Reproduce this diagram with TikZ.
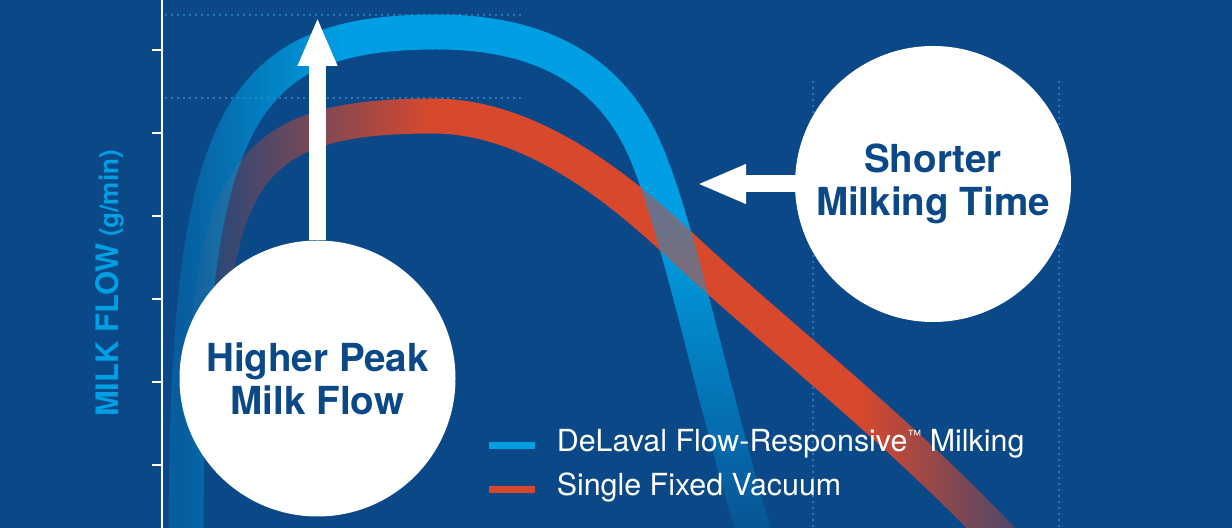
\documentclass[tikz,border=0pt]{standalone}
\usepackage{fontspec}
\setmainfont{TeX Gyre Heros}
\usetikzlibrary{arrows.meta,positioning,fadings}
\definecolor{bgblue}{HTML}{0A4887}
\definecolor{flowblue}{HTML}{009EE2}
\definecolor{vacred}{HTML}{D8482D}
\definecolor{guideblue}{HTML}{3E9AD6}
% fadings on the same px grid as the picture
\begin{tikzfadingfrompicture}[name=bluefade,x=0.5pt,y=-0.5pt]
\begin{scope}[shift={(-616,-264)}]
\fill[transparent!75](0,0)rectangle(180,528);
\shade[left color=transparent!75,right color=transparent!0](180,0)rectangle(340,528);
\fill[transparent!0](340,0)rectangle(1232,230);
\shade[top color=transparent!0,bottom color=transparent!85](340,230)rectangle(1232,528);
\end{scope}
\end{tikzfadingfrompicture}
\begin{tikzfadingfrompicture}[name=redfade,x=0.5pt,y=-0.5pt]
\begin{scope}[shift={(-616,-264)}]
\fill[transparent!90](0,0)rectangle(200,528);
\shade[left color=transparent!90,right color=transparent!0](200,0)rectangle(430,528);
\fill[transparent!0](430,0)rectangle(860,528);
\shade[left color=transparent!0,right color=transparent!65](860,0)rectangle(1010,528);
\fill[transparent!65](1010,0)rectangle(1232,528);
\end{scope}
\end{tikzfadingfrompicture}
\begin{document}
\begin{tikzpicture}[x=0.5pt,y=-0.5pt,
bubble/.style={circle,fill=white,minimum size=138pt,inner sep=0pt,align=center,text=bgblue,font=\fontsize{19.3}{21.5}\selectfont\bfseries},
bigarrow/.style={white,line width=8.5pt,-{Triangle[length=24.5pt,width=18pt]}},
band/.style={line width=17.5pt,fit fading=false,fading transform={shift={(616,264)}}},
guide/.style={guideblue,line width=1pt,line cap=round,dash pattern=on 0pt off 3pt},
legbar/.style={minimum width=23pt,minimum height=3.8pt,inner sep=0pt},
legtext/.style={inner sep=0pt,yshift=-3pt,text=white,font=\fontsize{15.2}{16}\selectfont}]
\useasboundingbox[fill=bgblue](0,0)rectangle(1232,528);
% axis and guides
\draw[white,line width=0.8pt](162,0)--(162,528);
\foreach \y in {50,133,216,299,382,465}\draw[white,line width=0.8pt](152,\y)--(162,\y);
\draw[guide](166,15)--(522,15);
\draw[guide](166,98)--(522,98);
\draw[guide](813,82)--(813,528);
\draw[guide](1059,82)--(1059,528);
\node[rotate=90,anchor=base,inner sep=0pt,text=flowblue,font=\bfseries](ylab)at(118,283.5){{\fontsize{15.5}{18}\selectfont MILK FLOW}\hspace{3pt}{\fontsize{13}{15}\selectfont(g/min)}};
% curves
\draw[band,vacred,path fading=redfade](205,420)..controls(210,170)and(250,116)..(433,116)..controls(510,116)and(590,160)..(680,245)..controls(770,330)and(900,430)..(1010,548);
\draw[band,flowblue,path fading=bluefade](186,545)..controls(186,120)and(235,32)..(437,32)..controls(540,32)and(610,70)..(645,150)..controls(680,230)and(718,420)..(758,545);
\begin{scope}
\clip(620,170)rectangle(720,300);
\draw[band,vacred,opacity=.5](433,116)..controls(510,116)and(590,160)..(680,245)..controls(770,330)and(900,430)..(1010,548);
\end{scope}
% callouts
\node[bubble](hpeak)at(317.5,378.5){Higher Peak\\Milk Flow};
\node[bubble](stime)at(933,184){Shorter\\Milking Time};
\coordinate(peaktip)at(317.5,17);
\coordinate(timetip)at(697,184);
\draw[bigarrow](hpeak)--(peaktip);
\draw[bigarrow](stime)--(timetip);
% legend
\node[legbar,fill=flowblue](kflow)at(512,445.5){};
\node[legtext,base right=10.5pt of kflow](tflow){DeLaval Flow-Responsive\raisebox{5.5pt}{\fontsize{7}{7}\selectfont™} Milking};
\node[legbar,fill=vacred](kvac)at(512,489.5){};
\node[legtext,base right=10.5pt of kvac](tvac){Single Fixed Vacuum};
\end{tikzpicture}
\end{document}
